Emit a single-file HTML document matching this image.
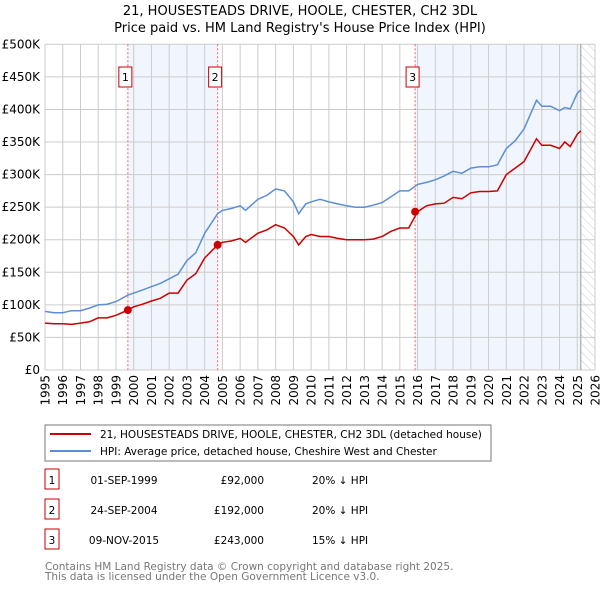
<!DOCTYPE html>
<html><head><meta charset="utf-8"><style>
body{margin:0;background:#fff;font-family:"DejaVu Sans","Liberation Sans",sans-serif;}
svg text{font-family:"DejaVu Sans","Liberation Sans",sans-serif;}
</style></head><body>
<svg id="c" width="600" height="590" xmlns="http://www.w3.org/2000/svg">
<defs><pattern id="hatch" width="6" height="6" patternUnits="userSpaceOnUse" patternTransform="rotate(-45)"><line x1="0" y1="0" x2="0" y2="6" stroke="#ccc" stroke-width="1"/></pattern></defs>
<text x="300" y="15" text-anchor="middle" font-size="13">21, HOUSESTEADS DRIVE, HOOLE, CHESTER, CH2 3DL</text>
<text x="300" y="32" text-anchor="middle" font-size="13">Price paid vs. HM Land Registry's House Price Index (HPI)</text>
<g id="plot"></g>
<rect x="45" y="425" width="446" height="36" fill="#fff" stroke="#777"/>
<line x1="50" y1="434" x2="91" y2="434" stroke="#cc0000" stroke-width="2"/>
<text x="100" y="438" font-size="10.5">21, HOUSESTEADS DRIVE, HOOLE, CHESTER, CH2 3DL (detached house)</text>
<line x1="50" y1="451" x2="91" y2="451" stroke="#5b8fd4" stroke-width="2"/>
<text x="100" y="455" font-size="10.5">HPI: Average price, detached house, Cheshire West and Chester</text>
<g id="table" font-size="10.5"></g>
<text x="45" y="570" font-size="10.5" fill="#777">Contains HM Land Registry data © Crown copyright and database right 2025.</text>
<text x="45" y="580" font-size="10.5" fill="#777">This data is licensed under the Open Government Licence v3.0.</text>
</svg>
<script>
const hpiYears=[1995,1995.5,1996,1996.5,1997,1997.5,1998,1998.5,1999,1999.67,2000,2000.5,2001,2001.5,2002,2002.5,2003,2003.5,2004,2004.73,2005,2005.5,2006,2006.3,2007,2007.5,2008,2008.5,2009,2009.3,2009.7,2010,2010.5,2011,2011.5,2012,2012.5,2013,2013.5,2014,2014.5,2015,2015.5,2016,2016.5,2017,2017.5,2018,2018.5,2019,2019.5,2020,2020.5,2021,2021.5,2022,2022.7,2023,2023.5,2024,2024.3,2024.6,2025,2025.2];
const hpiValues=[90,88,88,91,91,95,100,101,105,115,118,123,128,133,140,147,168,180,210,240,245,248,252,245,262,268,278,275,258,240,255,258,262,258,255,252,250,250,253,257,266,275,275,285,288,292,298,305,302,310,312,312,315,340,352,370,414,405,405,398,403,401,425,430];
const ppValues=[72,71,71,70,72,74,80,80,84,92,97,101,106,110,118,118,138,148,172,192,196,198,202,196,210,215,223,218,205,192,205,208,205,205,202,200,200,200,201,205,213,218,218,243,252,255,256,265,263,272,274,274,275,300,310,320,355,345,345,340,350,343,362,367];
const saleYears=[1999.67,2004.73,2015.86];
const salePrices=[92,192,243];
const saleLabels=["1","2","3"];
const saleDates=["01-SEP-1999","24-SEP-2004","09-NOV-2015"];
const salePriceText=["£92,000","£192,000","£243,000"];
const saleDiffs=["20% ↓ HPI","20% ↓ HPI","15% ↓ HPI"];
const yTicks=[0,50,100,150,200,250,300,350,400,450,500];
const yTickLabels=["£0","£50K","£100K","£150K","£200K","£250K","£300K","£350K","£400K","£450K","£500K"];
const xTicks=[1995,1996,1997,1998,1999,2000,2001,2002,2003,2004,2005,2006,2007,2008,2009,2010,2011,2012,2013,2014,2015,2016,2017,2018,2019,2020,2021,2022,2023,2024,2025,2026];
const dataEnd=2025.2;

const X0=45,X1=595,Y0=370,Y1=44.3;
const xs=y=>X0+(y-1995)/(2026-1995)*(X1-X0);
const ys=v=>Y0-v/500*(Y0-Y1);
const NS="http://www.w3.org/2000/svg";
const g=document.getElementById('plot');
function mk(tag,attrs,parent){const e=document.createElementNS(NS,tag);for(const k in attrs)e.setAttribute(k,attrs[k]);(parent||g).appendChild(e);return e;}
let r=mk('rect',{x:xs(saleYears[0]),y:Y1,width:xs(saleYears[1])-xs(saleYears[0]),height:Y0-Y1,fill:'#eef3fc',opacity:0.8});


r=mk('rect',{x:xs(saleYears[2]),y:Y1,width:xs(dataEnd)-xs(saleYears[2]),height:Y0-Y1,fill:'#eef3fc',opacity:0.8});


r=mk('rect',{x:xs(dataEnd),y:Y1,width:X1-xs(dataEnd),height:Y0-Y1,fill:'url(#hatch)'});


xTicks.forEach((t,i)=>{
  const l=mk('line',{x1:xs(t),x2:xs(t),y1:Y1,y2:Y0,stroke:'#ccc','stroke-width':1});
  
  
  const tx=mk('text',{x:0,y:0,'text-anchor':'end','font-size':12,transform:'translate('+(xs(t)+4.5)+','+(Y0+5)+') rotate(-90)'});
  tx.textContent=t;
  
  
});
yTicks.forEach((t,i)=>{
  const l=mk('line',{x1:X0,x2:X1,y1:ys(t),y2:ys(t),stroke:'#ccc','stroke-width':1});
  
  
  const tx=mk('text',{x:X0-5,y:ys(t)+4,'text-anchor':'end','font-size':12});
  tx.textContent=yTickLabels[i];
  
  
});
const endLine=mk('line',{x1:xs(dataEnd),x2:xs(dataEnd),y1:Y1,y2:Y0,stroke:'#999','stroke-width':1});


saleYears.forEach((s,i)=>{
  const l=mk('line',{x1:xs(s),x2:xs(s),y1:Y1,y2:Y0,stroke:'#f06060','stroke-width':1,'stroke-dasharray':'2,2'});
  
  
  const b=mk('rect',{x:xs(s)-9,y:67,width:13,height:20,fill:'#fff',stroke:'#cc0000'});
  
  
  const t=mk('text',{x:xs(s)-2.5,y:81,'text-anchor':'middle','font-size':11});
  t.textContent=saleLabels[i];
  
  
});
function path(vals,color,name){
  const d=hpiYears.map((y,i)=>(i?'L':'M')+xs(y).toFixed(1)+','+ys(vals[i]).toFixed(1)).join('');
  const p=mk('path',{d:d,fill:'none',stroke:color,'stroke-width':1.5});
  
  
}
path(hpiValues,'#5b8fd4','hpi-line');
path(ppValues,'#cc0000','price-paid-line');
saleYears.forEach((s,i)=>{
  const c=mk('circle',{cx:xs(s),cy:ys(salePrices[i]),r:4,fill:'#cc0000'});
  
  
});
const tb=document.getElementById('table');
saleYears.forEach((s,i)=>{
  const y=483+i*30;
  const b=mk('rect',{x:45,y:y-14,width:14,height:20,fill:'#fff',stroke:'#cc0000'},tb);
  
  
  const vals=[[52,saleLabels[i],'middle'],[124,saleDates[i],'middle'],[264,salePriceText[i],'end'],[312,saleDiffs[i],'start']];
  vals.forEach(v=>{
    const t=mk('text',{x:v[0],y:y+1,'text-anchor':v[2]},tb);
    t.textContent=v[1];
    
    
  });
});
</script>
</body></html>
